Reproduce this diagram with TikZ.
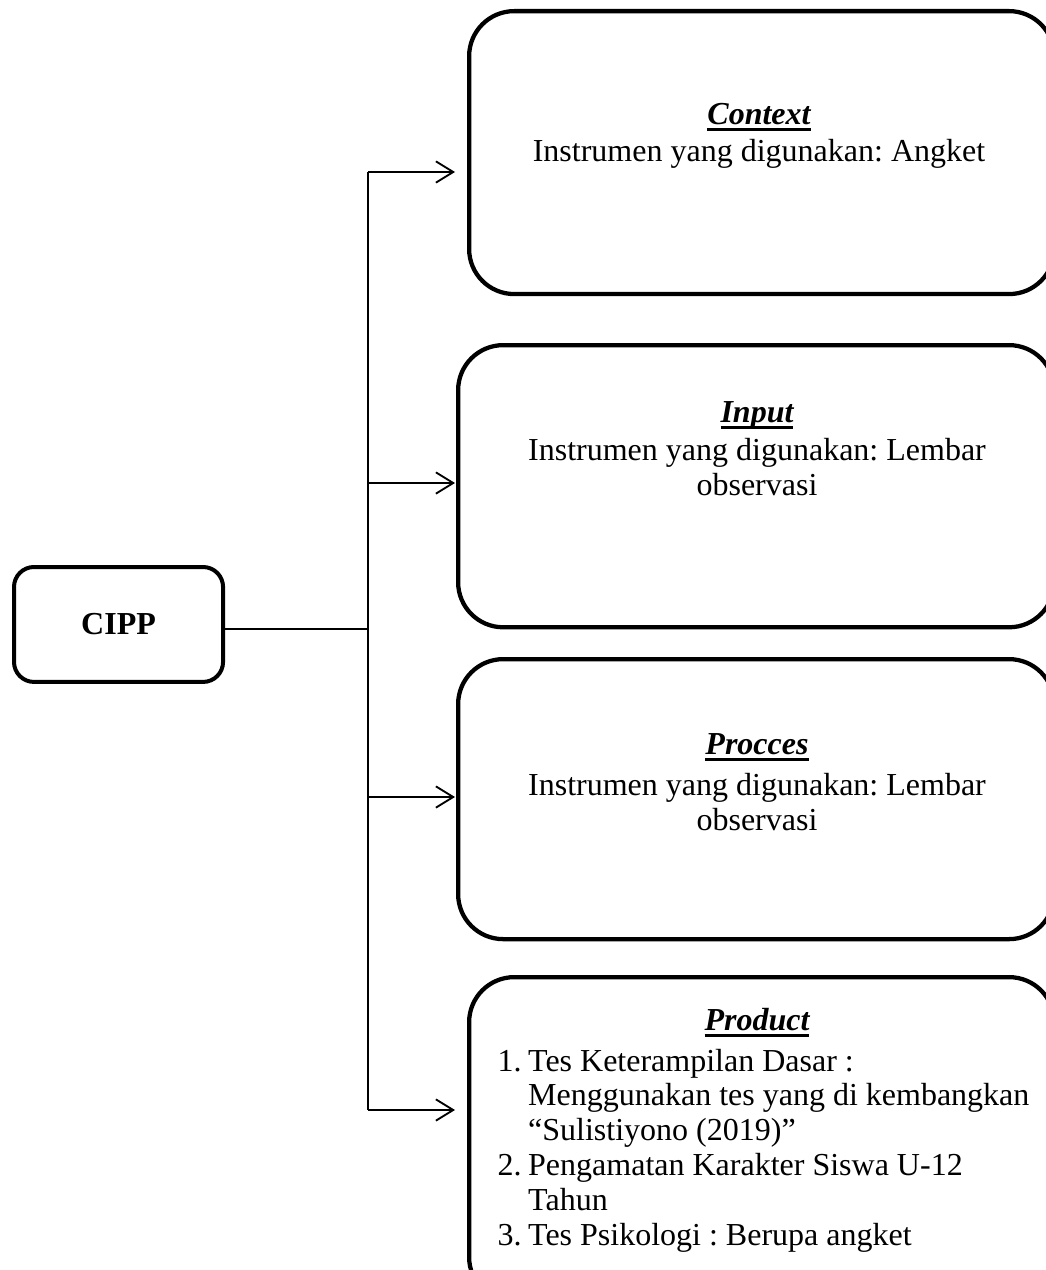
\documentclass[tikz,border=0pt]{standalone}
\usepackage{fontspec}
\setmainfont{Liberation Serif}
\usetikzlibrary{arrows.meta}
\frenchspacing
\newcommand{\ultitle}[1]{\setbox0\hbox{#1}\rlap{\rule[-2.5pt]{\wd0}{1.3pt}}\box0}
\newcommand{\bodyfont}{\fontsize{12}{13.1}\selectfont}
\tikzset{%
  mybox/.style={draw=black, line width=1.6pt, rounded corners=16.9pt, anchor=north west, inner sep=0pt},
  myedge/.style={-{Straight Barb[length=6.5pt,width=8pt]}, line width=0.7pt},
  mytitle/.style={anchor=north, inner sep=0pt, font=\bodyfont\bfseries\itshape},
  mytext/.style={anchor=north, inner sep=0pt, align=center}
}

\begin{document}
\begin{tikzpicture}[x=0.375pt, y=-0.375pt, font=\bodyfont]
  \useasboundingbox (0,0) rectangle (1046,1270);
  \node[mybox, rounded corners=7.5pt, line width=1.5pt, minimum width=78.4pt, minimum height=43.1pt] (cipp) at (12,565) {\textbf{CIPP}};

  \node[mybox, minimum width=219.4pt, minimum height=106.1pt] (ctx) at (467,9) {};
  \node[mybox, minimum width=223.5pt, minimum height=105.8pt] (inp) at (456,343) {};
  \node[mybox, minimum width=223.5pt, minimum height=105pt] (proc) at (456,657) {};
  \node[mybox, minimum width=219.4pt, minimum height=121.9pt] (prod) at (467,975) {};

  \node[mytitle] (ctxtitle) at (759,103) {\ultitle{Context}};
  \node[mytext] (ctxtext) at (759,139) {Instrumen yang digunakan: Angket};
  \node[mytitle] (inptitle) at (757,401) {\ultitle{Input}};
  \node[mytext] (inptext) at (757,438) {Instrumen yang digunakan: Lembar\\observasi};
  \node[mytitle] (proctitle) at (757,733) {\ultitle{Procces}};
  \node[mytext] (proctext) at (757,773) {Instrumen yang digunakan: Lembar\\observasi};
  \node[mytitle] (prodtitle) at (757,1008) {\ultitle{Product}};
  \node[anchor=north west, inner sep=0pt] (prodtext) at (497,1046) {%
    \begin{tabular}{@{}l@{\hspace{2.5pt}}l@{}}
      1. & Tes Keterampilan Dasar :\\
         & Menggunakan tes yang di kembangkan\\
         & “Sulistiyono (2019)”\\
      2. & Pengamatan Karakter Siswa U-12\\
         & Tahun\\
      3. & Tes Psikologi : Berupa angket
    \end{tabular}};

  \coordinate (j) at (368,629);
  \coordinate (b1) at (368,172);
  \coordinate (b2) at (368,483);
  \coordinate (b3) at (368,797);
  \coordinate (b4) at (368,1110);
  \coordinate (e1) at (455,172);
  \coordinate (e2) at (455,483);
  \coordinate (e3) at (455,797);
  \coordinate (e4) at (455,1110);

  \draw[line width=0.7pt] (cipp.east |- j) -- (j);
  \draw[line width=0.7pt] (b1) -- (b4);
  \draw[myedge] (b1) -- (e1);
  \draw[myedge] (b2) -- (e2);
  \draw[myedge] (b3) -- (e3);
  \draw[myedge] (b4) -- (e4);
\end{tikzpicture}
\end{document}
